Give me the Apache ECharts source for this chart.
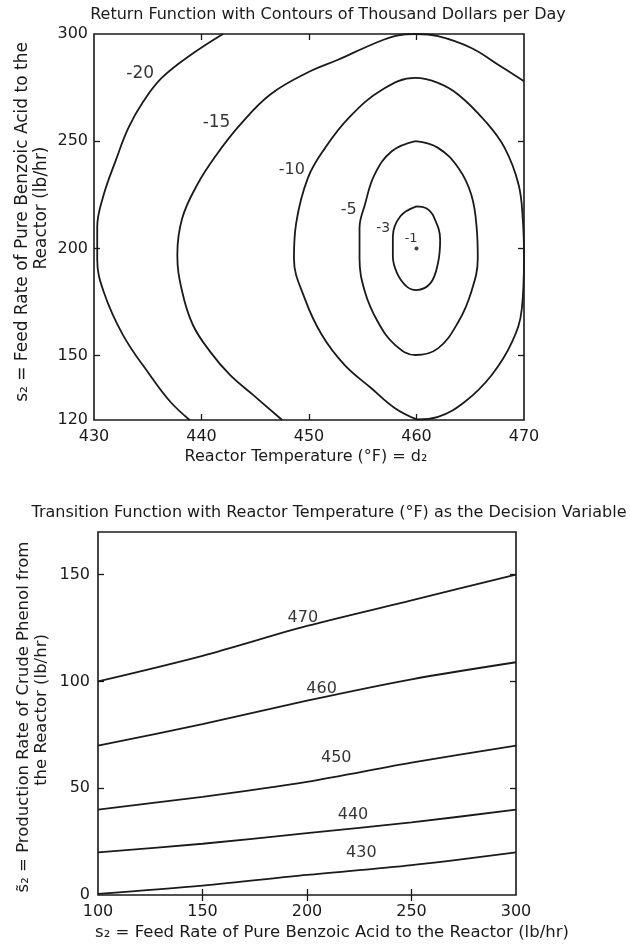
<!DOCTYPE html>
<html>
<head>
<meta charset="utf-8">
<script src="https://cdn.jsdelivr.net/npm/echarts@6/dist/echarts.min.js"></script>
<style>
html,body{margin:0;padding:0;background:#fff;}
#chart{width:630px;height:949px;}
</style>
</head>
<body>
<div id="chart"></div>
<script>
// ---------- Data: top chart (return function contours, thousand $/day) ----------
const tempTicks = [430, 440, 450, 460, 470];
const feedTicksTop = [120, 150, 200, 250, 300];
const contourLevels = ['-20', '-15', '-10', '-5', '-3', '-1'];
const contourM20 = [[442.0,300],[439.05,290.4],[436.3,279.5],[434.6,268.6],[433.2,256.2],[432.0,240.7],[430.9,225],[430.3,210],[430.3,195],[430.9,179.8],[432.7,159.6],[435.2,141],[437.1,128.5],[438.9,120]];
const contourM15 = [[447.5,120],[444.8,131.7],[442.65,141],[440.8,151.9],[439.2,164.3],[438.2,179.9],[437.75,197],[438.2,214],[439.6,229.7],[441.4,243.7],[443.6,257.7],[446.4,271.8],[450.1,282.6],[452.7,288],[455.8,295],[458.3,299.4],[459.9,300],[462.0,299],[465.1,293.5],[467.6,285.7],[470,278]];
const contourM10 = [[460,120.3],[458.0,125.5],[455.8,134.8],[453.3,145.7],[451.2,159.6],[449.6,176.7],[448.6,195.4],[448.8,211.6],[449.9,232.9],[451.5,246.9],[453.7,260.9],[456.8,274],[459.9,279.5],[462.0,277.2],[463.9,271.7],[466.4,259.3],[468.2,246.9],[469.5,229.7],[469.9,212.7],[470,195.6],[469.8,172],[468.9,156.5],[467.0,141],[464.5,128.5],[462.0,121.5],[460,120.3]];
const contourM5 = [[459.9,250],[457.7,245.3],[456.1,234.4],[455.2,220.4],[454.7,209.5],[454.7,195.4],[455.2,179.8],[456.4,165.8],[458.0,155],[459.9,150.3],[462.0,153.4],[463.9,165.8],[465.1,179.8],[465.7,195.4],[465.6,209.5],[465.1,225],[463.9,237.5],[462.0,246.9],[459.9,250]];
const contourM3 = [[460.0,219.6],[458.5,215],[457.8,205.5],[457.8,196.2],[458.2,188.4],[459.1,182.2],[460.0,180.6],[461.3,183.8],[462.0,193.2],[462.2,204],[461.6,214.8],[460.9,218.7],[460.0,219.6]];
const contourLabelAt = [[434.3,281.5],[441.4,258.5],[448.4,236.6],[453.7,218.1],[456.9,209.4],[459.5,204.7]];
const optimumPoint = [[460,200]];

// ---------- Data: bottom chart (transition function) ----------
const feedRate = [100, 150, 200, 250, 300];
const productionTicks = [0, 50, 100, 150];
const tempLevels = ['470', '460', '450', '440', '430'];
const phenol470 = [100, 112, 126, 138, 150];
const phenol460 = [70, 80, 91, 101, 109];
const phenol450 = [40, 46, 53, 62, 70];
const phenol440 = [20, 24, 29, 34, 40];
const phenol430 = [0.5, 4.4, 9.4, 14, 20];
const tempLabelAt = [[198,130],[207,96.5],[214,64],[222,37.5],[226,19.7]];

// ---------- Build ----------
const INK = '#1a1a1a';
const FONT = 'DejaVu Sans';
const chart = echarts.init(document.getElementById('chart'), null, {renderer:'canvas'});

function tickCfg(vals){ return {show:true, inside:true, length:6, customValues: vals, lineStyle:{color:INK, width:1.3}}; }
function axisBase(extra){
  return Object.assign({
    type:'value', axisLine:{show:false}, splitLine:{show:false},
    axisLabel:{show:false}
  }, extra);
}
const lblStyle = (vals, margin) => ({show:true, customValues: vals, color:INK, fontSize:16, fontFamily:FONT, margin: margin});

const contours = [contourM20, contourM15, contourM10, contourM5, contourM3];
const series = [];
contours.forEach((c) => {
  series.push({type:'line', xAxisIndex:0, yAxisIndex:0, data:c, smooth:0.4, showSymbol:false,
    lineStyle:{color:INK, width:1.8}, silent:true, animation:false, clip:true});
});
const labelSizes = [17, 17, 16, 16, 14, 13];
series.push({type:'scatter', xAxisIndex:0, yAxisIndex:0, symbolSize:0, animation:false, silent:true,
  data: contourLabelAt.map((p, i) => ({value:p, label:{show:true, position:'inside', formatter: contourLevels[i], color:'#000', fontSize:labelSizes[i], fontFamily:FONT}}))
});
series.push({type:'scatter', xAxisIndex:0, yAxisIndex:0, symbolSize:4, itemStyle:{color:'#111'}, data: optimumPoint, animation:false, silent:true});

const phenol = [phenol470, phenol460, phenol450, phenol440, phenol430];
phenol.forEach((arr) => {
  series.push({type:'line', xAxisIndex:2, yAxisIndex:2, data: feedRate.map((x,i)=>[x,arr[i]]), smooth:0.3, showSymbol:false,
    lineStyle:{color:INK, width:1.8}, silent:true, animation:false});
});
series.push({type:'scatter', xAxisIndex:2, yAxisIndex:2, symbolSize:0, animation:false, silent:true,
  data: tempLabelAt.map((p, i) => ({value:p, label:{show:true, position:'inside', formatter: tempLevels[i], color:'#000', fontSize:16, fontFamily:FONT}}))
});

function txt(text, x, y, size, rot){
  const el = {type:'text', x:x, y:y, silent:true,
    style:{text:text, fill:INK, font: size + 'px "' + FONT + '"', textAlign:'center', textVerticalAlign:'middle'}};
  if (rot) el.rotation = rot;
  return el;
}

const option = {
  backgroundColor:'#fff',
  animation:false,
  grid:[
    {left:94, top:34, width:430, height:386, show:true, borderColor:INK, borderWidth:1.6, backgroundColor:'transparent'},
    {left:98, top:532, width:418, height:363, show:true, borderColor:INK, borderWidth:1.6, backgroundColor:'transparent'}
  ],
  xAxis:[
    axisBase({gridIndex:0, position:'bottom', min:430, max:470, interval:10, axisTick:tickCfg([440,450,460]), axisLabel:lblStyle(tempTicks, 9)}),
    axisBase({gridIndex:0, position:'top', min:430, max:470, interval:10, axisTick:tickCfg([440,450,460])}),
    axisBase({gridIndex:1, position:'bottom', min:100, max:300, interval:50, axisTick:tickCfg([150,200,250]), axisLabel:lblStyle(feedRate, 9)}),
    axisBase({gridIndex:1, position:'top', min:100, max:300, interval:50, axisTick:tickCfg([150,200,250])})
  ],
  yAxis:[
    axisBase({gridIndex:0, position:'left', min:120, max:300, axisTick:tickCfg([150,200,250]), axisLabel:lblStyle(feedTicksTop, 6)}),
    axisBase({gridIndex:0, position:'right', min:120, max:300, axisTick:tickCfg([150,200,250])}),
    axisBase({gridIndex:1, position:'left', min:0, max:170, axisTick:tickCfg([50,100,150]), axisLabel:lblStyle(productionTicks, 8)}),
    axisBase({gridIndex:1, position:'right', min:0, max:170, axisTick:tickCfg([50,100,150])})
  ],
  series: series,
  graphic:[
    txt('Return Function with Contours of Thousand Dollars per Day', 328, 15, 16),
    txt('Reactor Temperature (°F) = d₂', 306, 457, 16),
    txt('s₂ = Feed Rate of Pure Benzoic Acid to the', 23, 222, 17, Math.PI/2),
    txt('Reactor (lb/hr)', 42, 208, 17, Math.PI/2),
    txt('Transition Function with Reactor Temperature (°F) as the Decision Variable', 329, 513, 16),
    txt('s₂ = Feed Rate of Pure Benzoic Acid to the Reactor (lb/hr)', 332, 933, 16.5),
    txt('s̃₂ = Production Rate of Crude Phenol from', 24, 717, 16.5, Math.PI/2),
    txt('the Reactor (lb/hr)', 42, 710, 16.5, Math.PI/2)
  ]
};
chart.setOption(option);
</script>
</body>
</html>
